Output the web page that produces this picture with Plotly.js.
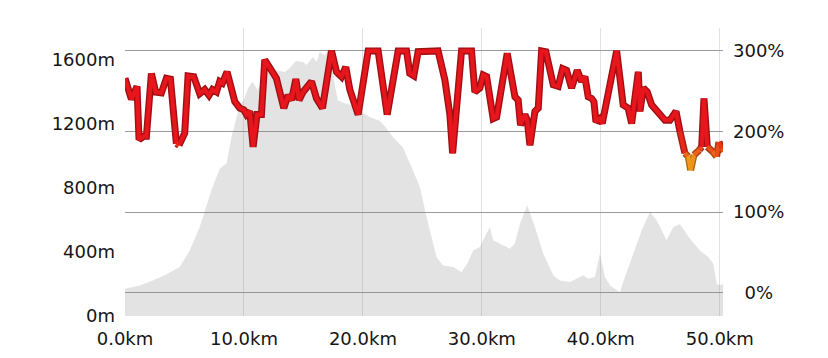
<!DOCTYPE html>
<html>
<head>
<meta charset="utf-8">
<script src="https://cdn.plot.ly/plotly-3.0.1.min.js"></script>
<style>
  html, body { margin: 0; padding: 0; background: #ffffff; }
  #chart { width: 788px; height: 358px; overflow: hidden; }
</style>
</head>
<body>
<div id="chart"></div>
<script>
// Elevation profile (grey area, left axis)
const elevKm = [0.0,1.24,2.33,3.34,4.60,5.44,6.28,7.27,7.97,8.53,8.95,9.65,9.98,10.34,10.71,11.16,11.89,12.59,13.43,13.85,14.36,14.95,15.28,15.79,16.12,16.37,16.80,17.22,17.56,17.89,18.48,19.32,19.91,20.58,21.42,21.84,22.52,23.35,24.20,24.79,25.35,26.19,26.74,27.59,28.29,28.85,29.27,29.83,30.25,30.67,30.95,31.51,32.35,32.77,33.20,33.81,34.46,35.16,36.00,36.56,37.40,37.96,38.52,38.94,39.50,39.92,40.35,40.77,41.61,41.88,42.72,43.43,44.13,44.69,45.53,46.09,46.65,47.49,48.33,49.03,49.45,49.74,50.02,50.30];
const elevM = [170,191,222,254,306,410,556,786,922,953,1119,1318,1349,1423,1464,1412,1525,1537,1525,1550,1593,1587,1568,1618,1587,1650,1631,1675,1474,1349,1330,1312,1274,1243,1218,1186,1118,1055,911,806,619,368,316,306,274,337,410,431,493,556,473,452,421,452,577,692,556,389,254,222,212,233,254,233,243,389,243,191,149,212,389,535,650,598,473,556,573,483,410,368,327,202,191,202];

// Percentage series (red line, right axis)
const pctKm = [0.0,0.54,1.01,1.18,1.57,1.80,2.22,2.58,3.06,3.48,3.82,4.32,4.54,5.02,5.30,5.78,6.28,6.70,7.06,7.35,7.69,7.96,8.19,8.58,9.23,9.65,9.98,10.21,10.49,10.77,11.10,11.47,11.75,12.31,12.73,13.35,13.71,14.00,14.36,14.63,14.97,15.68,16.10,16.60,17.36,17.78,18.20,18.56,18.90,19.60,20.44,21.28,22.04,22.96,23.67,23.94,24.28,24.64,25.63,26.32,26.89,27.31,27.54,27.87,28.29,29.13,29.41,29.83,30.11,30.40,30.95,31.24,32.13,32.78,33.05,33.25,33.62,33.81,34.04,34.46,34.74,35.02,35.38,36.00,36.42,36.79,37.12,37.54,38.02,38.38,38.66,38.94,39.23,39.42,39.59,39.92,40.12,41.33,41.88,42.30,42.59,43.15,43.29,43.57,43.90,44.27,44.83,45.39,45.81,46.32,46.65,47.07,47.35,47.55,47.83,48.28,48.48,48.67,48.95,49.40,49.73,49.93,50.16,50.30];
const pctVal = [266,240,256,190,194,194,272,249,248,266,265,185,183,198,269,268,247,252,245,252,249,262,260,274,237,229,227,221,225,181,221,221,289,276,266,229,245,239,265,239,249,262,241,229,300,274,268,280,252,221,300,300,221,300,300,272,269,299,300,300,264,221,173,227,300,300,249,254,270,268,216,218,297,243,239,208,221,214,183,225,229,300,299,258,256,278,276,254,276,262,268,243,241,237,212,216,210,300,233,229,210,274,225,254,249,233,223,214,214,225,200,173,169,152,171,177,181,241,181,175,169,187,179,175];

// Axis ticks
const xTicks = [0,10,20,30,40,50];
const xText = ['0.0km','10.0km','20.0km','30.0km','40.0km','50.0km'];
const leftTicks = [0,400,800,1200,1600];
const leftText = ['0m','400m','800m','1200m','1600m'];
const rightTicks = [0,100,200,300];
const rightText = ['\u20070%','100%','200%','300%'];

// colour scale for the percentage line
const stops = [[152,[240,190,30]],[166,[242,128,22]],[180,[236,70,26]],[190,[230,22,28]]];
function colorFor(v){
  if (v <= stops[0][0]) return stops[0][1];
  for (let i=1;i<stops.length;i++){
    if (v <= stops[i][0]) {
      const a = stops[i-1], b = stops[i];
      const t = (v-a[0])/(b[0]-a[0]);
      return a[1].map((c,k)=>Math.round(c+(b[1][k]-c)*t));
    }
  }
  return stops[stops.length-1][1];
}
const rgb = c => 'rgb('+c.join(',')+')';
const dark = c => 'rgb('+c.map(x=>Math.round(x*0.7)).join(',')+')';

// group consecutive segments with same colour
const groups = [];
for (let i=0;i<pctKm.length-1;i++){
  const avg = Math.round((pctVal[i]+pctVal[i+1])/2/2)*2;
  const c = colorFor(avg);
  const key = c.join(',');
  const last = groups[groups.length-1];
  if (last && last.key === key && last.end === i) { last.end = i+1; }
  else groups.push({key:key, c:c, start:i, end:i+1});
}

const traces = [{
  x: elevKm, y: elevM, type:'scatter', mode:'lines',
  line:{width:0, color:'rgba(0,0,0,0)'}, fill:'tozeroy',
  fillcolor:'rgba(135,135,135,0.23)', xaxis:'x', yaxis:'y', hoverinfo:'skip'
}];
groups.forEach(g=>{
  traces.push({x: pctKm.slice(g.start,g.end+1), y: pctVal.slice(g.start,g.end+1),
    type:'scatter', mode:'lines', line:{width:7, color:dark(g.c)}, xaxis:'x', yaxis:'y2', hoverinfo:'skip'});
});
groups.forEach(g=>{
  traces.push({x: pctKm.slice(g.start,g.end+1), y: pctVal.slice(g.start,g.end+1),
    type:'scatter', mode:'lines', line:{width:4.2, color:rgb(g.c)}, xaxis:'x', yaxis:'y2', hoverinfo:'skip'});
});

const tickFont = {family:'DejaVu Sans, sans-serif', size:18, color:'#151515'};
const layout = {
  width: 788, height: 358,
  margin: {l:125, r:65, t:28, b:42, pad:0},
  paper_bgcolor:'#ffffff', plot_bgcolor:'#ffffff',
  showlegend:false,
  xaxis: {range:[0,50.27], tickvals:xTicks, ticktext:xText,
    showgrid:true, gridcolor:'#e1e1e1', gridwidth:1, zeroline:false, showline:false,
    ticks:'', tickfont:tickFont, ticklabelstandoff:10, fixedrange:true},
  yaxis: {range:[0,1800], tickvals:leftTicks, ticktext:leftText, showgrid:false,
    zeroline:false, showline:false, ticks:'', tickfont:tickFont, ticklabelstandoff:9, fixedrange:true},
  yaxis2: {range:[-28.9,328.4], overlaying:'y', side:'right', tickvals:rightTicks, ticktext:rightText,
    showgrid:true, gridcolor:'#9a9a9a', gridwidth:1, zeroline:false, showline:false,
    ticks:'', tickfont:tickFont, ticklabelstandoff:9, fixedrange:true}
};
Plotly.newPlot('chart', traces, layout, {staticPlot:true, displayModeBar:false});
</script>
</body>
</html>
